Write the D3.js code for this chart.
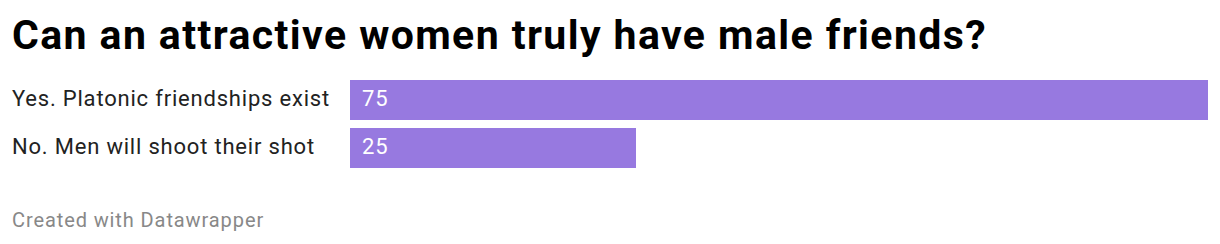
<!DOCTYPE html>
<html>
<head>
<meta charset="utf-8">
<script src="https://cdn.jsdelivr.net/npm/d3@7"></script>
<style>
    body { margin: 0; background: #fff; }
    text { font-family: Roboto, sans-serif; }
</style>
</head>
<body>
<div id="space"></div>
<script>
var categories = ["Yes. Platonic friendships exist", "No. Men will shoot their shot"];
var values = [75, 25];
var title_text = "Can an attractive women truly have male friends?";
var footer_text = "Created with Datawrapper";

var width = 1220, height = 244;
var svg;

function initSvg() {
    svg = d3.select("#space").append("svg")
        .attr("xmlns", "http://www.w3.org/2000/svg")
        .attr("width", width)
        .attr("height", height);
}

function drawChart() {
    //Title
    svg.append("text")
        .attr("x", 12)
        .attr("y", 49)
        .attr("font-size", 41)
        .attr("font-weight", "bold")
        .attr("letter-spacing", 1.4)
        .attr("fill", "#000")
        .text(title_text);

    var x = d3.scaleLinear().domain([0, 75]).range([350, 1208]);
    var y = d3.scaleBand().domain(categories).range([80, 168]).paddingInner(8 / 48).paddingOuter(0);

    var rows = svg.append("g").selectAll("g")
        .data(categories)
        .enter().append("g");

    rows.append("rect")
        .attr("x", x(0))
        .attr("y", function (d) { return y(d); })
        .attr("width", function (d, i) { return x(values[i]) - x(0); })
        .attr("height", y.bandwidth())
        .attr("fill", "#9779e0");

    rows.append("text")
        .attr("x", 12)
        .attr("y", function (d) { return y(d) + 26; })
        .attr("font-size", 22)
        .attr("letter-spacing", 0.8)
        .attr("fill", "#222")
        .text(function (d) { return d; });

    rows.append("text")
        .attr("x", x(0) + 12)
        .attr("y", function (d) { return y(d) + 26; })
        .attr("font-size", 22)
        .attr("letter-spacing", 0.8)
        .attr("fill", "#fff")
        .text(function (d, i) { return values[i]; });

    //Footer
    svg.append("text")
        .attr("x", 12)
        .attr("y", 227)
        .attr("font-size", 20)
        .attr("letter-spacing", 0.9)
        .attr("fill", "#888")
        .text(footer_text);
}

initSvg();
drawChart();
</script>
</body>
</html>
